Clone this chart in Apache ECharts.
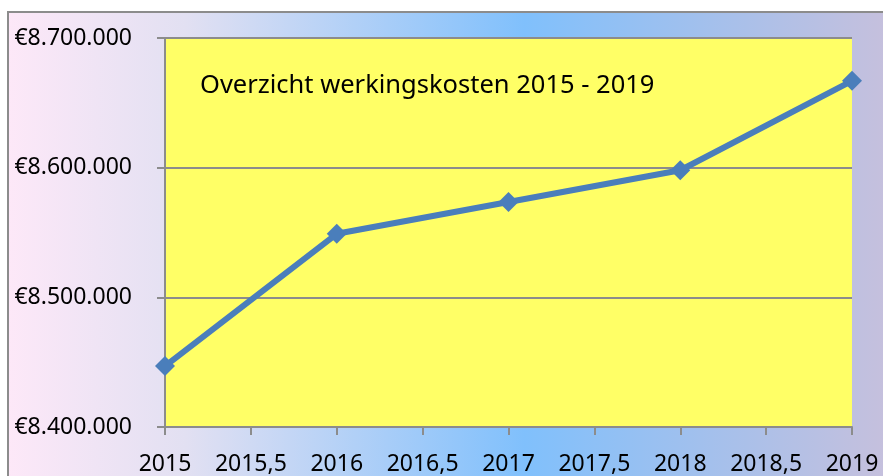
<!DOCTYPE html>
<html>
<head>
<meta charset="utf-8">
<script src="https://cdn.jsdelivr.net/npm/echarts@6/dist/echarts.min.js"></script>
<style>
  html, body { margin: 0; padding: 0; background: #ffffff; }
  #chart { width: 883px; height: 476px; }
</style>
</head>
<body>
<div id="chart"></div>
<script>
// jaren en werkingskosten
var jaren = [2015, 2016, 2017, 2018, 2019];
var kosten = [8447000, 8549000, 8573500, 8598000, 8667000];
var titel = 'Overzicht werkingskosten 2015 - 2019';

var fontNaam = '"Noto Sans", "DejaVu Sans", sans-serif';

// 8700000 -> €8.700.000
function euro(v) {
    return '€' + String(Math.round(v)).replace(/\B(?=(\d{3})+(?!\d))/g, '.');
}

var myChart = echarts.init(document.getElementById('chart'), null, { renderer: 'canvas' });

var option = {
    animation: false,
    backgroundColor: '#ffffff',
    graphic: [
        {
            type: 'rect',
            z: -10,
            silent: true,
            shape: { x: 8, y: 12, width: 890, height: 480 },
            style: {
                fill: new echarts.graphic.LinearGradient(0, 0, 1, 0, [
                    { offset: 0, color: '#fde8f8' },
                    { offset: 0.2, color: '#e2e0f2' },
                    { offset: 0.58, color: '#80c0fc' },
                    { offset: 1, color: '#c8c0dc' }
                ]),
                stroke: '#8c8c8c',
                lineWidth: 2
            }
        }
    ],
    title: {
        text: titel,
        left: 195,
        top: 68,
        textStyle: {
            fontFamily: fontNaam,
            fontSize: 25.5,
            fontWeight: 'normal',
            color: '#000000'
        }
    },
    grid: {
        left: 165,
        right: 31,
        top: 38,
        bottom: 48,
        show: true,
        backgroundColor: '#ffff66',
        borderWidth: 0
    },
    xAxis: {
        type: 'value',
        min: 2015,
        max: 2019,
        interval: 0.5,
        axisLine: { show: true, onZero: false, lineStyle: { color: '#8c8c8c', width: 2 } },
        axisTick: { show: true, length: 8, lineStyle: { color: '#8c8c8c', width: 2 } },
        splitLine: { show: false },
        axisLabel: {
            margin: 26,
            color: '#000000',
            fontFamily: fontNaam,
            fontSize: 23,
            formatter: function (v) { return String(v).replace('.', ','); }
        }
    },
    yAxis: {
        type: 'value',
        min: 8400000,
        max: 8700000,
        interval: 100000,
        axisLine: { show: true, lineStyle: { color: '#8c8c8c', width: 2 } },
        axisTick: { show: true, length: 8, lineStyle: { color: '#8c8c8c', width: 2 } },
        splitLine: { show: true, lineStyle: { color: '#8c8c8c', width: 2 } },
        axisLabel: {
            margin: 33,
            color: '#000000',
            fontFamily: fontNaam,
            fontSize: 23,
            formatter: euro
        }
    },
    series: [
        {
            type: 'line',
            data: jaren.map(function (j, i) { return [j, kosten[i]]; }),
            symbol: 'diamond',
            symbolSize: 20,
            clip: false,
            lineStyle: { color: '#4a7ebb', width: 6 },
            itemStyle: { color: '#4a7ebb' }
        }
    ]
};

myChart.setOption(option);
</script>
</body>
</html>
